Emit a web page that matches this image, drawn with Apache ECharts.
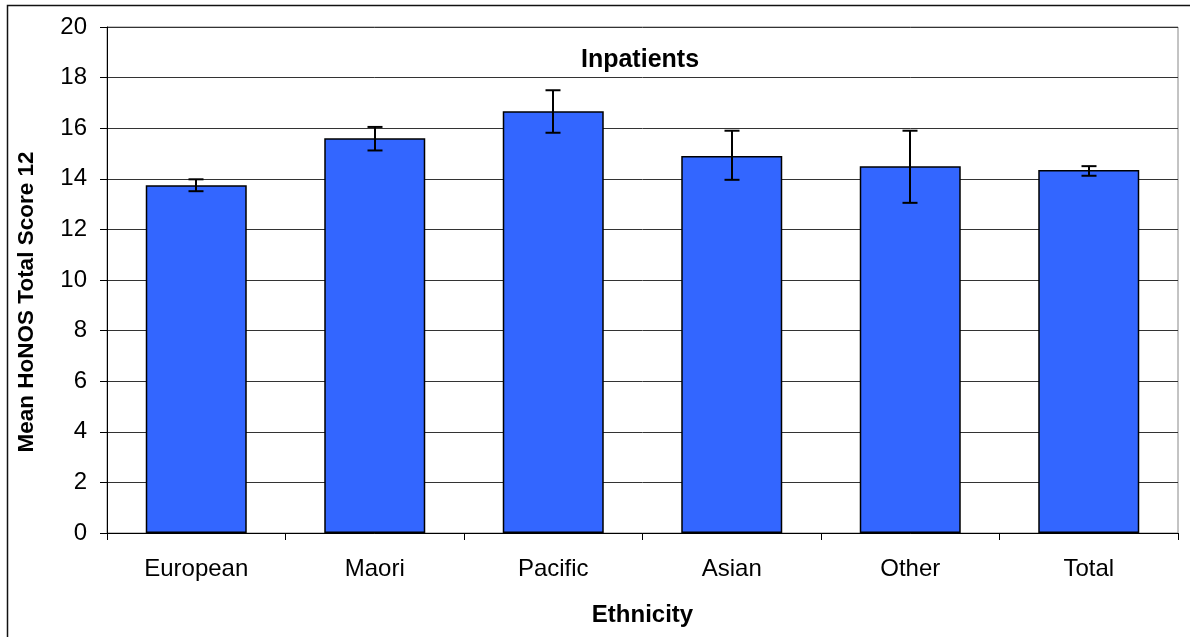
<!DOCTYPE html>
<html>
<head>
<meta charset="utf-8">
<script src="https://cdn.jsdelivr.net/npm/echarts@6/dist/echarts.min.js"></script>
<style>html,body{margin:0;padding:0;background:#fff}#c{width:1190px;height:637px}</style>
</head>
<body>
<div id="c"></div>
<script>
var categories = ['European', 'Maori', 'Pacific', 'Asian', 'Other', 'Total'];
var meanValues = [13.75, 15.6, 16.67, 14.9, 14.5, 14.35];
var errLower = [13.51, 15.12, 15.82, 13.96, 13.05, 14.12];
var errUpper = [13.98, 16.05, 17.5, 15.9, 15.9, 14.5];
var yTicks = [0, 2, 4, 6, 8, 10, 12, 14, 16, 18, 20];
var yTitle = 'Mean HoNOS Total Score 12';

var FONT = 'Liberation Sans, Arial, sans-serif';
var chart = echarts.init(document.getElementById('c'));
var errData = categories.map(function (c, i) { return [i, errLower[i], errUpper[i]]; });
chart.setOption({
  animation: false,
  backgroundColor: '#fff',
  title: {
    text: 'Inpatients', left: 635, top: 43, textAlign: 'center',
    textStyle: { fontFamily: FONT, fontSize: 25, fontWeight: 'bold', color: '#000' }
  },
  graphic: [{
    type: 'rect', silent: true, z: -1,
    shape: { x: 7.5, y: 5.5, width: 1300, height: 800 },
    style: { fill: 'none', stroke: '#111', lineWidth: 1.5 }
  }, {
    type: 'text', silent: true,
    x: 27, y: 302, rotation: Math.PI / 2,
    style: {
      text: yTitle, fontFamily: FONT, fontSize: 22.5, fontWeight: 'bold', fill: '#000',
      align: 'center', verticalAlign: 'middle'
    }
  }],
  grid: { left: 107, right: 12, top: 27, bottom: 104, show: true, borderColor: '#888', borderWidth: 1 },
  xAxis: {
    type: 'category', data: categories,
    name: 'Ethnicity', nameLocation: 'middle', nameGap: 70,
    nameTextStyle: { fontFamily: FONT, fontSize: 24, fontWeight: 'bold', color: '#000' },
    axisLine: { lineStyle: { color: '#000', width: 1 } },
    axisTick: { show: true, length: 7, lineStyle: { color: '#000' } },
    axisLabel: { fontFamily: FONT, fontSize: 24, color: '#000', margin: 24 }
  },
  yAxis: {
    type: 'value', min: yTicks[0], max: yTicks[yTicks.length - 1], interval: 2,
    axisLine: { show: true, lineStyle: { color: '#000', width: 1 } },
    axisTick: { show: true, length: 7, lineStyle: { color: '#000' } },
    axisLabel: { fontFamily: FONT, fontSize: 24, color: '#000', margin: 20 },
    splitLine: { show: true, lineStyle: { color: '#333', width: 1 } }
  },
  series: [{
    type: 'bar', data: meanValues, barWidth: 101,
    itemStyle: { color: '#3366FF', borderColor: '#000', borderWidth: 1.5 },
    z: 2
  }, {
    type: 'custom', data: errData, z: 3,
    renderItem: function (params, api) {
      var x = api.value(0);
      var lo = api.coord([x, api.value(1)]);
      var hi = api.coord([x, api.value(2)]);
      var cx = Math.round(lo[0]);
      var hw = 7.5;
      var st = { stroke: '#000', lineWidth: 2, fill: 'none' };
      return { type: 'group', children: [
        { type: 'line', shape: { x1: cx, y1: hi[1], x2: cx, y2: lo[1] }, style: st },
        { type: 'line', shape: { x1: cx - hw, y1: hi[1], x2: cx + hw, y2: hi[1] }, style: st },
        { type: 'line', shape: { x1: cx - hw, y1: lo[1], x2: cx + hw, y2: lo[1] }, style: st }
      ]};
    }
  }]
});
</script>
</body>
</html>
